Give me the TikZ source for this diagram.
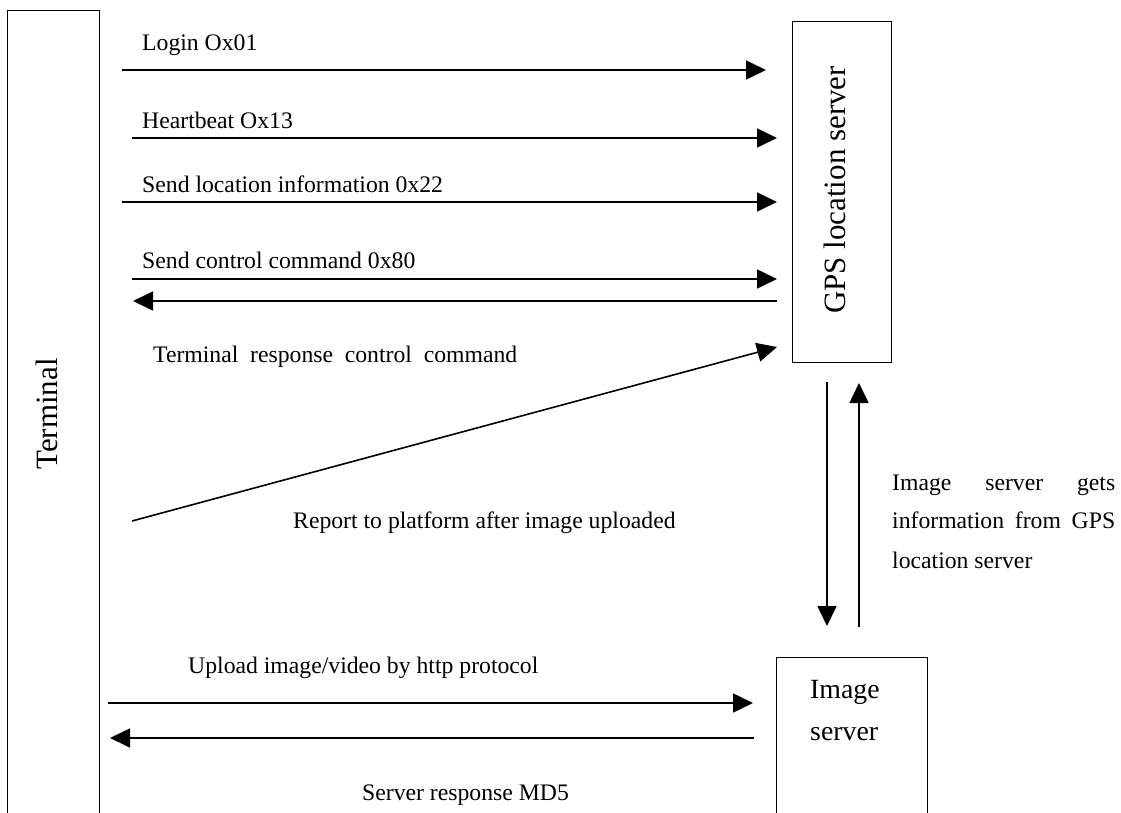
\documentclass[tikz,border=0pt]{standalone}
\usepackage{fontspec}
\setmainfont{Liberation Serif}
\usetikzlibrary{arrows.meta}
\begin{document}
\begin{tikzpicture}[x=1pt,y=-1pt,
  box/.style={draw, line width=1pt, inner sep=0pt},
  msg/.style={line width=1.6pt, -{Triangle[length=20pt,width=19pt]}},
  lbl/.style={anchor=base west, inner sep=0pt, font=\fontsize{23.7}{28}\selectfont},
  biglbl/.style={anchor=base west, inner sep=0pt, font=\fontsize{27.8}{32}\selectfont},
  vlbl/.style={inner sep=0pt, rotate=90, font=\fontsize{31}{36}\selectfont}]
\useasboundingbox (0,0) rectangle (1121,812);
\clip (0,0) rectangle (1121,812);
% boxes
\node[box, anchor=north west, minimum width=92pt, minimum height=830pt] (term) at (7,10) {};
\node[vlbl] (termtext) at (47,414) {Terminal};
\node[box, anchor=north west, minimum width=99pt, minimum height=341pt] (gps) at (792,21) {};
\node[vlbl] (gpstext) at (835,190) {GPS location server};
\node[box, anchor=north west, minimum width=151pt, minimum height=200pt] (img) at (776,657) {};
\node[biglbl] (imgt1) at (810,698) {Image};
\node[biglbl] (imgt2) at (810,740) {server};
% endpoints
\coordinate (a1) at (122,70);  \coordinate (b1) at (766,70);
\coordinate (a2) at (132,138); \coordinate (b2) at (777,138);
\coordinate (a3) at (122,202); \coordinate (b3) at (777,202);
\coordinate (a4) at (132,279); \coordinate (b4) at (777,279);
\coordinate (a5) at (133,301); \coordinate (b5) at (777,301);
\coordinate (a6) at (132,521); \coordinate (b6) at (777,347);
\coordinate (d1) at (827,382); \coordinate (d2) at (827,626);
\coordinate (u1) at (859,627); \coordinate (u2) at (859,383);
\coordinate (a9) at (108,703); \coordinate (b9) at (753,703);
\coordinate (a10) at (110,738); \coordinate (b10) at (754,738);
% arrows
\draw[msg] (a1) -- (b1);
\draw[msg] (a2) -- (b2);
\draw[msg] (a3) -- (b3);
\draw[msg] (a4) -- (b4);
\draw[msg] (b5) -- (a5);
\draw[msg] (a6) -- (b6);
\draw[msg] (d1) -- (d2);
\draw[msg] (u1) -- (u2);
\draw[msg] (a9) -- (b9);
\draw[msg] (b10) -- (a10);
% labels
\node[lbl] (l1) at (142,50) {Login Ox01};
\node[lbl] (l2) at (142,128) {Heartbeat Ox13};
\node[lbl] (l3) at (142,192) {Send location information 0x22};
\node[lbl] (l4) at (142,268) {Send control command 0x80};
\node[lbl] (l5) at (153,362) {\makebox[364pt][s]{Terminal\hfill response\hfill control\hfill command}};
\node[lbl] (l6) at (293,528) {Report to platform after image uploaded};
\node[lbl] (l9) at (188,673) {Upload image/video by http protocol};
\node[lbl] (l10) at (362,800) {Server response MD5};
\node[lbl] (p1) at (892,490) {\makebox[223pt][s]{Image\hfill server\hfill gets}};
\node[lbl] (p2) at (892,528) {\makebox[223pt][s]{information\hfill from\hfill GPS}};
\begin{scope}
\clip (880,540) rectangle (1121,571);
\node[lbl] (p3) at (892,568) {location server};
\end{scope}
\end{tikzpicture}
\end{document}
